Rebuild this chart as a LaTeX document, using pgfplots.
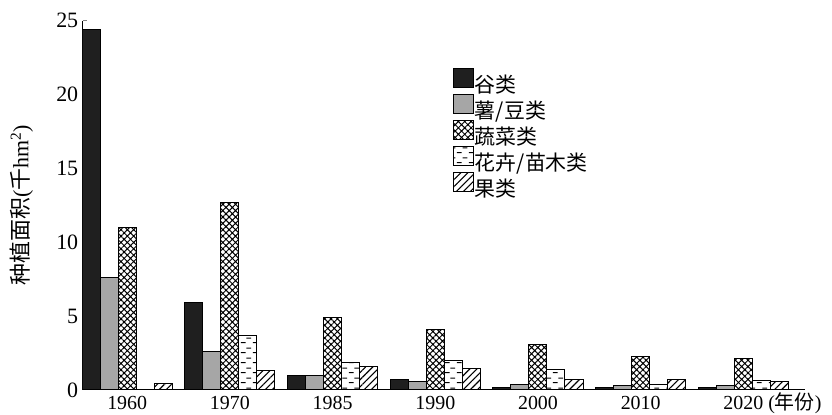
\documentclass[border=0pt]{standalone}
\usepackage{fontspec}
\setmainfont{Liberation Serif}
\newfontfamily\cjk{Noto Sans CJK SC}
\usepackage{pgfplots}
\pgfplotsset{compat=1.18}
\usetikzlibrary{patterns,patterns.meta}

% short staggered dashes for the flower / nursery series
\pgfdeclarepatternformonly{hdash}{\pgfpointorigin}{\pgfpoint{12bp}{10bp}}{\pgfpoint{12bp}{10bp}}{%
  \pgfsetlinewidth{1bp}%
  \pgfpathmoveto{\pgfpoint{1bp}{2.5bp}}\pgfpathlineto{\pgfpoint{6bp}{2.5bp}}%
  \pgfpathmoveto{\pgfpoint{7bp}{7.5bp}}\pgfpathlineto{\pgfpoint{12bp}{7.5bp}}%
  \pgfusepath{stroke}}

\begin{document}
\begin{tikzpicture}
\begin{axis}[
    name=ax,
    scale only axis,
    width=722bp, height=369bp,
    ybar=0pt, bar width=18bp,
    xmin=-0.433, xmax=6.6,
    ymin=0, ymax=25,
    axis lines*=left,
    axis line style={line width=1.2bp},
    xtick={0,...,6},
    xticklabels={1960,1970,1985,1990,2000,2010,{2020\rlap{ ({\cjk 年份})}}},
    xtick style={draw=none},
    ytick={0,5,...,25},
    tick align=inside,
    major tick length=4bp,
    ytick style={line width=1bp},
    /pgf/number format/assume math mode=true,
    yticklabel style={font=\fontsize{22}{24}\selectfont, xshift=-1bp},
    xticklabel style={font=\fontsize{20}{22}\selectfont, anchor=base, yshift=-20bp},
    ylabel={{\cjk 种植面积}({\cjk 千}hm\textsuperscript{2})},
    every axis y label/.style={at={(axis description cs:-0.085,0.5)}, rotate=90, anchor=center,
      font=\fontsize{22}{24}\selectfont},
    every axis plot/.append style={draw=black, line width=1bp},
    legend cell align=left,
    legend image code/.code={\draw[#1, draw=black, line width=1bp] (0bp,-1.5bp) rectangle (20bp,17bp);},
    legend style={at={(rel axis cs:0.513,0.872)}, anchor=north west, draw=none, fill=none,
      inner sep=0pt, row sep=-1.5bp, font=\fontsize{21}{23}\selectfont,
      nodes={inner sep=0.5bp, text height=16bp, text depth=3bp},
      /tikz/every even column/.append style={column sep=6bp}},
]
% 谷类
\addplot[fill=black!88] coordinates {(0,24.4) (1,5.9) (2,1.0) (3,0.7) (4,0.18) (5,0.15) (6,0.15)};
\addlegendentry{\cjk 谷类}
% 薯/豆类
\addplot[fill=black!35] coordinates {(0,7.6) (1,2.6) (2,1.0) (3,0.55) (4,0.35) (5,0.3) (6,0.28)};
\addlegendentry{\cjk 薯/豆类}
% 蔬菜类
\addplot[fill=white, pattern={Hatch[angle=45,distance=4.5bp,line width=1bp]}] coordinates {(0,11.0) (1,12.7) (2,4.9) (3,4.1) (4,3.05) (5,2.25) (6,2.15)};
\addlegendentry{\cjk 蔬菜类}
% 花卉/苗木类
\addplot[fill=white, pattern=hdash] coordinates {(0,0) (1,3.65) (2,1.85) (3,2.0) (4,1.4) (5,0.35) (6,0.6)};
\addlegendentry{\cjk 花卉/苗木类}
% 果类
\addplot[fill=white, pattern={Lines[angle=45,distance=5bp,line width=1.1bp]}] coordinates {(0,0.4) (1,1.3) (2,1.55) (3,1.45) (4,0.7) (5,0.7) (6,0.55)};
\addlegendentry{\cjk 果类}
\end{axis}
\pgfresetboundingbox
\path[use as bounding box] ([shift={(-82.7bp,-24.5bp)}]ax.south west) rectangle ([shift={(27bp,20.7bp)}]ax.north east);
\end{tikzpicture}
\end{document}
